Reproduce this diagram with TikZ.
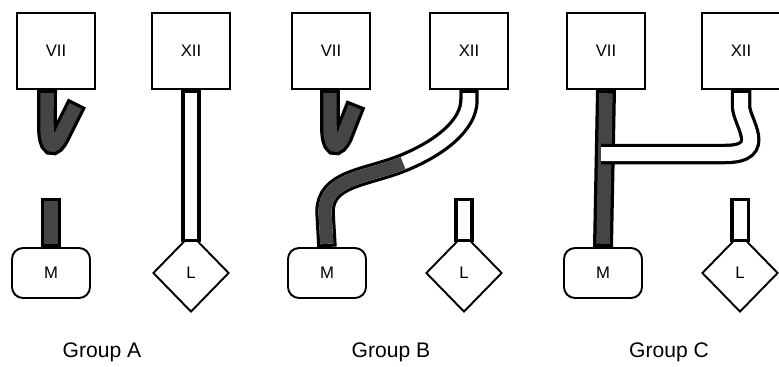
\documentclass[tikz,border=0pt]{standalone}
\usepackage{fontspec}
\setmainfont{Liberation Sans}
\usetikzlibrary{shapes,arrows}
\definecolor{nervegray}{gray}{0.27}

\begin{document}
\begin{tikzpicture}[x=0.02cm, y=-0.02cm]
    % Define styles
    \tikzstyle{nucleus} = [rectangle, draw, line width=1.1pt, minimum width=1.56cm, minimum height=1.52cm, font=\fontsize{9.5}{10}\selectfont]
    \tikzstyle{muscle} = [rectangle, draw, rounded corners=0.22cm, line width=1.1pt, minimum width=1.56cm, minimum height=1cm, font=\fontsize{9.5}{10}\selectfont]
    \tikzstyle{gland} = [diamond, draw, line width=1.1pt, inner sep=0pt, minimum width=1.52cm, minimum height=1.56cm, font=\fontsize{9.5}{10}\selectfont]
    \tikzstyle{darknerve} = [draw=black, line width=0.4cm, postaction={draw=nervegray, line width=0.27cm, shorten <=0.065cm, shorten >=0.065cm}]
    \tikzstyle{whitenerve} = [draw=black, line width=0.39cm, postaction={draw=white, line width=0.26cm, shorten <=0.065cm, shorten >=0.065cm}]
    \tikzstyle{branch} = [draw=black, line width=0.41cm, postaction={draw=white, line width=0.28cm, shorten >=0.065cm}]
    \tikzstyle{darkcore} = [draw=nervegray, line width=0.26cm, shorten >=0.065cm]
    \tikzstyle{caption} = [font=\fontsize{12}{14}\selectfont]

    \useasboundingbox (0,0) rectangle (779,366);

    % Group A
    \node [nucleus] (sevena) at (56,51) {VII};
    \node [nucleus] (twelvea) at (191,51) {XII};
    \node [muscle] (ma) at (51,273) {M};
    \node [gland] (la) at (191,273) {L};
    \coordinate (hooka) at (77,103);
    \coordinate (cuta) at (51,198);
    \path [darknerve] ([xshift=-0.18cm]sevena.south) -- (47,125) .. controls (47,150) and (54,149) .. (60,137) -- (hooka);
    \path [darknerve] (ma.north) -- (cuta);
    \path [whitenerve] (twelvea.south) -- ([yshift=-0.18cm]la.north);

    % Group B
    \node [nucleus] (sevenb) at (331,51) {VII};
    \node [nucleus] (twelveb) at (469,51) {XII};
    \node [muscle] (mb) at (327,273) {M};
    \node [gland] (lb) at (464,273) {L};
    \coordinate (hookb) at (356,104);
    \coordinate (stubb) at (464,198);
    \coordinate (swapb) at (403,163);
    \path [darknerve] ([xshift=-0.02cm]sevenb.south) -- (330,125) .. controls (330,150) and (337,149) .. (343,137) -- (hookb);
    \path [whitenerve] (twelveb.south) -- (469,100) .. controls (469,125) and (440,148) .. (swapb)
        .. controls (366,178) and (325,178) .. (325,212) -- (mb.north);
    \path [darkcore] (swapb) .. controls (366,178) and (325,178) .. (325,212) -- (mb.north);
    \path [whitenerve] ([yshift=-0.18cm]lb.north) -- (stubb);

    % Group C
    \node [nucleus] (sevenc) at (606,51) {VII};
    \node [nucleus] (twelvec) at (741,51) {XII};
    \node [muscle] (mc) at (603,273) {M};
    \node [gland] (lc) at (740,273) {L};
    \coordinate (joinc) at (601,154);
    \coordinate (stubc) at (740,198);
    \path [darknerve] (sevenc.south) -- (mc.north);
    \path [branch] (joinc) -- (725,154) .. controls (770,154) and (741,122) .. (741,106) -- (twelvec.south);
    \path [whitenerve] ([yshift=-0.18cm]lc.north) -- (stubc);

    % Captions
    \node [caption] (capa) at (102,352) {Group A};
    \node [caption] (capb) at (391,352) {Group B};
    \node [caption] (capc) at (669,352) {Group C};
\end{tikzpicture}
\end{document}
